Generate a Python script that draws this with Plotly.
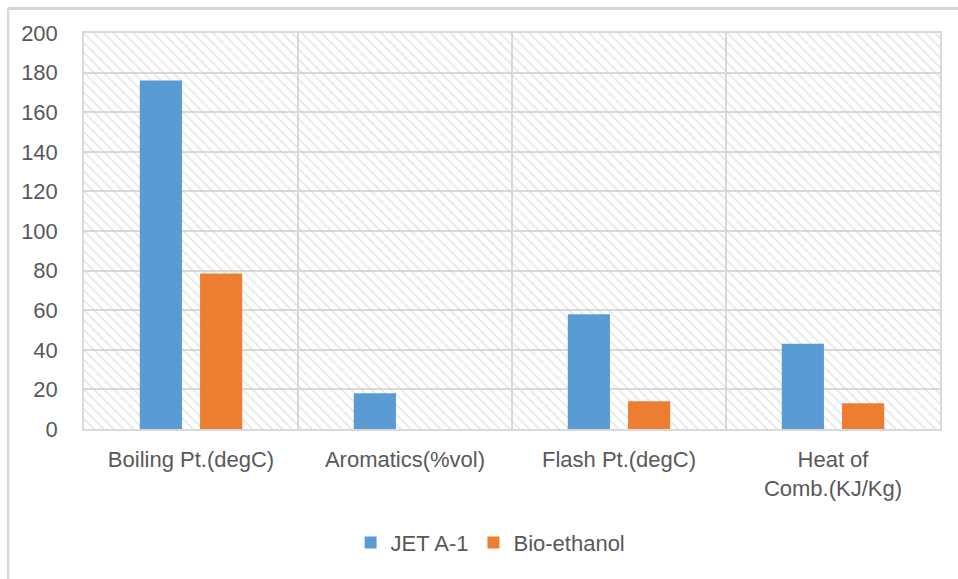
import plotly.graph_objects as go

categories = ["Boiling Pt.(degC)", "Aromatics(%vol)", "Flash Pt.(degC)", "Heat of<br>Comb.(KJ/Kg)"]
jet_a1 = [176, 18, 58, 43]
bio_ethanol = [78.5, 0, 14, 13]
y_ticks = [0, 20, 40, 60, 80, 100, 120, 140, 160, 180, 200]
y_max = 200

TXT = "#595959"
GRID = "#d9d9d9"
FONT = "Liberation Sans, Arial, sans-serif"
FS = 22

fig = go.Figure()

# Hatched plot background (transparent base so gridlines show through)
fig.add_trace(go.Bar(
    x=categories, y=[y_max] * len(categories), width=1,
    marker=dict(color="rgba(0,0,0,0)", line=dict(width=0),
                pattern=dict(shape="\\", fgcolor="#cfcfcf", bgcolor="rgba(0,0,0,0)",
                             size=7, solidity=0.25)),
    showlegend=False, hoverinfo="skip", xaxis="x", yaxis="y",
))

fig.add_trace(go.Bar(name="JET A-1", x=categories, y=jet_a1,
                     marker=dict(color="#5b9bd5", line=dict(width=0)),
                     xaxis="x2", yaxis="y2"))
fig.add_trace(go.Bar(name="Bio-ethanol", x=categories, y=bio_ethanol,
                     marker=dict(color="#ed7d31", line=dict(width=0)),
                     xaxis="x2", yaxis="y2"))

fig.update_layout(
    width=958, height=579,
    margin=dict(l=84, r=18, t=33, b=150),
    paper_bgcolor="white", plot_bgcolor="white",
    font=dict(family=FONT, size=FS, color=TXT),
    barmode="group", bargap=0.437, bargroupgap=0.3,
    xaxis=dict(type="category", range=[-0.5, 3.5], tickson="boundaries",
               showgrid=True, gridcolor=GRID, gridwidth=1.5,
               showline=True, linecolor=GRID, linewidth=1.5, mirror=True,
               ticks="", ticklabelstandoff=10,
               tickfont=dict(size=FS, color=TXT)),
    yaxis=dict(range=[0, y_max], tickvals=y_ticks, showgrid=True,
               gridcolor=GRID, gridwidth=1.5, zeroline=False,
               showline=True, linecolor=GRID, linewidth=1.5, mirror=True,
               ticks="", ticklabelstandoff=20,
               tickfont=dict(size=FS, color=TXT)),
    xaxis2=dict(type="category", overlaying="x", range=[-0.5, 3.5],
                showticklabels=False, showgrid=False, ticks="", showline=False),
    yaxis2=dict(overlaying="y", range=[0, y_max], showticklabels=False,
                showgrid=False, zeroline=False, ticks="", showline=False),
    legend=dict(orientation="h", x=0.475, xanchor="center", y=-0.287, yanchor="middle",
                font=dict(size=FS, color=TXT), itemwidth=30,
                traceorder="normal"),
    showlegend=True,
    shapes=[
        dict(type="line", xref="paper", yref="paper",
             x0=-0.0887, x1=1.05, y0=1.062, y1=1.062,
             line=dict(color="#d4d4d4", width=3), layer="above"),
        dict(type="line", xref="paper", yref="paper",
             x0=-0.0887, x1=-0.0887, y0=-0.5, y1=1.062,
             line=dict(color=GRID, width=2.5), layer="above"),
    ],
)

fig.write_html("out.html", config={"displayModeBar": False},
               post_script="document.body.style.margin='0';document.body.style.padding='0';")
